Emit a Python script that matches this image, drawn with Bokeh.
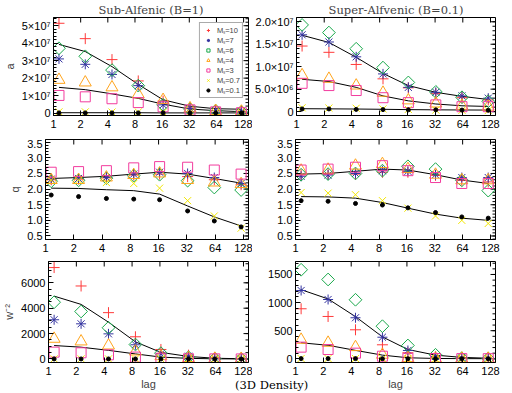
import numpy as np
from bokeh.plotting import figure
from bokeh.layouts import column, row
from bokeh.models import FixedTicker, CustomJSTickFormatter, Legend, LegendItem, Div
from bokeh.embed import file_html
from bokeh.resources import INLINE

# ---------------- data ----------------
lags = [1.15, 2.25, 4.45, 8.7, 16.4, 32.6, 62.7, 121]
x_ticks = [1, 2, 4, 8, 16, 32, 64, 128]
x_tick_labels = ["1", "2", "4", "8", "16", "32", "64", "128"]
ms_labels = ["Mₛ=10", "Mₛ=7", "Mₛ=6", "Mₛ=4", "Mₛ=3", "Mₛ=0.7", "Mₛ=0.1"]

# amplitude a, sub-Alfvenic (units of 1e7), rows: Ms = 10, 7, 6, 4, 3, 0.7, 0.1
a_sub = [
    [5.14, 4.26, 3.06, 1.84, 0.69, 0.29, 0.14, 0.08],
    [3.10, 2.79, 2.21, 1.57, 0.47, 0.27, 0.14, 0.10],
    [3.71, 3.25, 2.46, 1.57, 0.47, 0.23, 0.14, 0.08],
    [1.90, 1.75, 1.47, 1.07, 0.75, 0.27, 0.12, 0.08],
    [1.01, 0.93, 0.82, 0.60, 0.36, 0.18, 0.07, 0.02],
    [0.07, 0.07, 0.06, 0.06, 0.05, 0.04, 0.03, 0.03],
    [0.01, 0.01, 0.01, 0.01, 0.01, 0.005, 0.005, 0.005],
]
a_sub_fits = [
    [3.93, 3.52, 2.66, 1.64, 0.76, 0.39, 0.25, 0.22],
    [1.47, 1.34, 1.10, 0.84, 0.51, 0.23, 0.14, 0.08],
    [0.02, 0.02, 0.02, 0.02, 0.01, 0.01, 0.01, 0.01],
]
# amplitude a, super-Alfvenic (units of 1e6)
a_sup = [
    [14.6, 13.2, 10.5, 7.3, 5.3, 4.0, 3.1, 2.6],
    [17.1, 15.5, 12.2, 8.4, 5.4, 4.3, 3.5, 3.0],
    [19.3, 17.6, 14.0, 9.8, 6.5, 4.4, 3.2, 2.3],
    [8.1, 7.3, 5.8, 4.2, 2.5, 1.8, 1.3, 1.1],
    [6.3, 5.8, 4.7, 3.1, 2.0, 1.5, 1.1, 1.1],
    [0.85, 0.8, 0.75, 0.6, 0.5, 0.35, 0.3, 0.25],
    [0.6, 0.6, 0.5, 0.45, 0.4, 0.4, 0.35, 0.3],
]
a_sup_fits = [
    [17.0, 15.4, 12.1, 8.5, 5.8, 4.3, 3.4, 2.7],
    [7.2, 6.7, 5.4, 3.5, 2.4, 1.7, 1.3, 1.15],
    [0.65, 0.62, 0.58, 0.52, 0.45, 0.4, 0.37, 0.35],
]
# slope q
q_sub = [
    [2.30, 2.32, 2.36, 2.45, 2.48, 2.40, 2.30, 2.14],
    [2.32, 2.34, 2.37, 2.48, 2.54, 2.50, 2.37, 2.18],
    [2.25, 2.28, 2.35, 2.43, 2.46, 2.27, 2.05, 1.97],
    [2.29, 2.29, 2.37, 2.45, 2.50, 2.29, 2.21, 2.16],
    [2.54, 2.56, 2.59, 2.68, 2.72, 2.70, 2.61, 2.48],
    [2.29, 2.29, 2.21, 2.18, 2.03, 1.63, 1.14, 0.75],
    [1.81, 1.76, 1.70, 1.68, 1.66, 1.30, 0.98, 0.79],
]
q_sub_fits = [
    [2.34, 2.37, 2.41, 2.48, 2.54, 2.48, 2.34, 2.19],
    [2.03, 2.02, 1.98, 1.95, 1.84, 1.46, 1.11, 0.82],
]
q_sup = [
    [2.46, 2.48, 2.48, 2.54, 2.54, 2.44, 2.28, 2.23],
    [2.41, 2.45, 2.50, 2.59, 2.57, 2.46, 2.37, 2.37],
    [2.46, 2.48, 2.50, 2.59, 2.73, 2.64, 2.28, 1.95],
    [2.59, 2.62, 2.75, 2.80, 2.64, 2.46, 2.28, 2.28],
    [2.61, 2.64, 2.70, 2.75, 2.59, 2.37, 2.18, 2.18],
    [1.89, 1.87, 1.82, 1.63, 1.39, 1.14, 1.00, 0.90],
    [1.63, 1.61, 1.54, 1.49, 1.40, 1.25, 1.11, 1.07],
]
q_sup_fits = [
    [2.48, 2.50, 2.57, 2.64, 2.61, 2.46, 2.29, 2.18],
    [1.76, 1.75, 1.71, 1.57, 1.39, 1.20, 1.07, 1.00],
]
# w^-2
w_sub = [
    [7200, 5750, 3650, 1750, 750, 300, 80, 30],
    [3090, 2770, 1980, 1120, 410, 220, 50, 20],
    [4470, 3740, 2460, 1140, 460, 140, 30, 10],
    [1590, 1380, 1060, 590, 220, 70, 20, 10],
    [540, 490, 330, 150, 60, 20, 10, 5],
    [10, 10, 8, 6, 4, 3, 2, 1],
    [5, 5, 5, 4, 3, 2, 1, 1],
]
w_sub_fits = [
    [4950, 4300, 2900, 1350, 520, 200, 60, 20],
    [1060, 930, 680, 400, 150, 50, 15, 5],
]
w_sup = [
    [890, 753, 516, 249, 107, 28, 10, 5],
    [1215, 1055, 730, 384, 148, 41, 11, 5],
    [1584, 1411, 1050, 580, 237, 71, 11, 5],
    [338, 285, 207, 71, 11, 5, 3, 2],
    [207, 165, 100, 46, 10, 5, 3, 2],
    [5, 5, 4, 3, 2, 1, 1, 1],
    [3, 3, 3, 2, 2, 1, 1, 1],
]
w_sup_fits = [
    [1230, 1065, 750, 390, 165, 65, 25, 10],
    [285, 240, 150, 65, 18, 6, 3, 2],
]

a_sub_ticks = [0, 1e7, 2e7, 3e7, 4e7, 5e7]
a_sub_tick_labels = ["0", "1×10⁷", "2×10⁷", "3×10⁷", "4×10⁷", "5×10⁷"]
a_sup_ticks = [0, 5e6, 1e7, 1.5e7, 2e7]
a_sup_tick_labels = ["0", "5.0×10⁶", "1.0×10⁷", "1.5×10⁷", "2.0×10⁷"]
q_ticks = [0.5, 1.0, 1.5, 2.0, 2.5, 3.0, 3.5]
q_tick_labels = ["0.5", "1.0", "1.5", "2.0", "2.5", "3.0", "3.5"]
w_sub_ticks = [0, 2000, 4000, 6000]
w_sub_tick_labels = ["0", "2000", "4000", "6000"]
w_sup_ticks = [0, 500, 1000, 1500]
w_sup_tick_labels = ["0", "500", "1000", "1500"]

# ---------------- styles ----------------
SANS = "Liberation Sans"
SERIF = "DejaVu Serif"
TICK_FS = "11px"
X_RANGE = (1, 145)
marker_styles = [
    dict(marker="cross", size=11, line_color="#ff3a3a"),
    dict(marker="asterisk", size=10, line_color="#3434a0"),
    dict(marker="square", size=9, angle=np.pi / 4, line_color="#18a84a", fill_color=None),
    dict(marker="triangle", size=12, line_color="#ffa41c", fill_color=None),
    dict(marker="square", size=10, line_color="#f23c9e", fill_color=None),
    dict(marker="x", size=10, line_color="#f2e600"),
    dict(marker="circle", size=4, line_color="black", fill_color="black"),
]


def label_formatter(tvals, tlabs):
    return CustomJSTickFormatter(args=dict(tv=tvals, tl=tlabs), code="""
        for (let i = 0; i < tv.length; i++) {
            if (Math.abs(tick - tv[i]) <= 1e-6 * Math.max(1, Math.abs(tv[i]))) return tl[i];
        }
        return "";
    """)


def style_axis(ax, standoff=3):
    ax.major_tick_in = 5
    ax.major_tick_out = 0
    ax.minor_tick_in = 3
    ax.minor_tick_out = 0
    ax.axis_line_color = "black"
    ax.major_tick_line_color = "black"
    ax.minor_tick_line_color = "black"
    ax.major_label_text_font = SANS
    ax.major_label_text_color = "black"
    ax.major_label_text_font_size = TICK_FS
    ax.major_label_standoff = standoff


def make_panel(width, height, borders, y_range, y_ticks, y_labels, y_minor_step,
               scale, series, fits, ylabel=None, xlabel=None, title=None):
    bl, br, bt, bb = borders
    p = figure(width=width, height=height, x_axis_type="log", x_range=X_RANGE,
               y_range=y_range, output_backend="svg", toolbar_location=None,
               min_border_left=bl, min_border_right=br, min_border_top=bt,
               min_border_bottom=bb, background_fill_color="white",
               border_fill_color="white", outline_line_color="black")
    p.grid.visible = False
    y_minor = list(np.arange(y_ticks[0] - 5 * y_minor_step, y_range[1] + y_minor_step, y_minor_step))
    xa = p.xaxis[0]
    ya = p.yaxis[0]
    xa.ticker = FixedTicker(ticks=x_ticks, minor_ticks=[])
    xa.formatter = label_formatter(x_ticks, x_tick_labels)
    ya.ticker = FixedTicker(ticks=y_ticks, minor_ticks=y_minor)
    ya.formatter = label_formatter(y_ticks, y_labels)
    style_axis(xa, standoff=4)
    style_axis(ya, standoff=3)
    if ylabel:
        ya.axis_label = ylabel
        ya.axis_label_text_font = SANS
        ya.axis_label_text_font_size = "11px"
        ya.axis_label_text_font_style = "normal"
        ya.axis_label_text_line_height = 1.0
        ya.axis_label_standoff = 3
    if xlabel:
        xa.axis_label = xlabel
        xa.axis_label_text_font = SANS
        xa.axis_label_text_font_size = "11px"
        xa.axis_label_text_font_style = "normal"
        xa.axis_label_standoff = 0
    if title:
        p.title.text = title
        p.title.align = "center"
        p.title.text_font = SERIF
        p.title.text_font_size = "11.5px"
        p.title.text_font_style = "normal"
        p.title.offset = 0
        if "standoff" in p.title.properties():
            p.title.standoff = 1
    # mirrored tick marks on the top and right edges (half of each dash is clipped away)
    n_x = len(x_ticks)
    p.scatter(x_ticks, [y_range[1]] * n_x, marker="dash", angle=np.pi / 2, size=10,
              line_color="black", line_width=1)
    n_y = len(y_ticks)
    p.scatter([X_RANGE[1]] * n_y, y_ticks, marker="dash", size=10,
              line_color="black", line_width=1)
    p.scatter([X_RANGE[1]] * len(y_minor), y_minor, marker="dash", size=6,
              line_color="black", line_width=1)
    for f in fits:
        p.line(lags, [v * scale for v in f], line_color="black", line_width=1)
    rends = []
    for ys, st in zip(series, marker_styles):
        kw = dict(st)
        kw.setdefault("fill_color", None)
        r = p.scatter(lags, [v * scale for v in ys], line_width=1, **kw)
        rends.append(r)
    return p, rends


W1, W2 = 252, 260
H1, H2, H3 = 139, 122, 132
B1 = (45, 4, 14, 24)
B2 = (43, 17, 14, 24)

p11, rends = make_panel(W1, H1, B1, (-1.39e6, 5.47e7), a_sub_ticks, a_sub_tick_labels, 0.2e7,
                        1e7, a_sub, a_sub_fits, ylabel="a", title="Sub-Alfenic (B=1)")
p12, _ = make_panel(W2, H1, B2, (-0.86e6, 2.095e7), a_sup_ticks, a_sup_tick_labels, 1e6,
                    1e6, a_sup, a_sup_fits, title="Super-Alfvenic (B=0.1)")
p21, _ = make_panel(W1, H2, (45, 4, 0, 22), (0.387, 3.587), q_ticks, q_tick_labels, 0.1,
                    1, q_sub, q_sub_fits, ylabel="q")
p22, _ = make_panel(W2, H2, (43, 17, 0, 22), (0.387, 3.587), q_ticks, q_tick_labels, 0.1,
                    1, q_sup, q_sup_fits)
p31, _ = make_panel(W1, H3, (45, 4, 0, 31), (-276, 7677), w_sub_ticks, w_sub_tick_labels, 500,
                    1, w_sub, w_sub_fits, ylabel="w⁻²", xlabel="lag")
p32, _ = make_panel(W2, H3, (43, 17, 0, 31), (-66, 1731), w_sup_ticks, w_sup_tick_labels, 100,
                    1, w_sup, w_sup_fits, xlabel="lag")

legend = Legend(items=[LegendItem(label=lab, renderers=[r]) for lab, r in zip(ms_labels, rends)],
                location="top_right", label_text_font=SANS, label_text_font_size="7.5px",
                label_text_line_height=1.0,
                label_height=8, glyph_height=8, glyph_width=12, spacing=0, padding=2,
                margin=5, label_standoff=3, border_line_color="#555555",
                border_line_width=1.5, background_fill_color="white")
p11.add_layout(legend)

note = Div(text="(3D Density)", styles={
    "position": "absolute", "left": "230px", "top": "375px", "z-index": "10",
    "font-family": "DejaVu Serif", "font-size": "11.5px", "line-height": "1",
    "color": "black", "white-space": "nowrap"})

root = column(row(p11, p12), row(p21, p22), row(p31, p32), note,
              width=512, height=393, sizing_mode="fixed", spacing=0)

open("out.html", "w").write(file_html(root, INLINE))
